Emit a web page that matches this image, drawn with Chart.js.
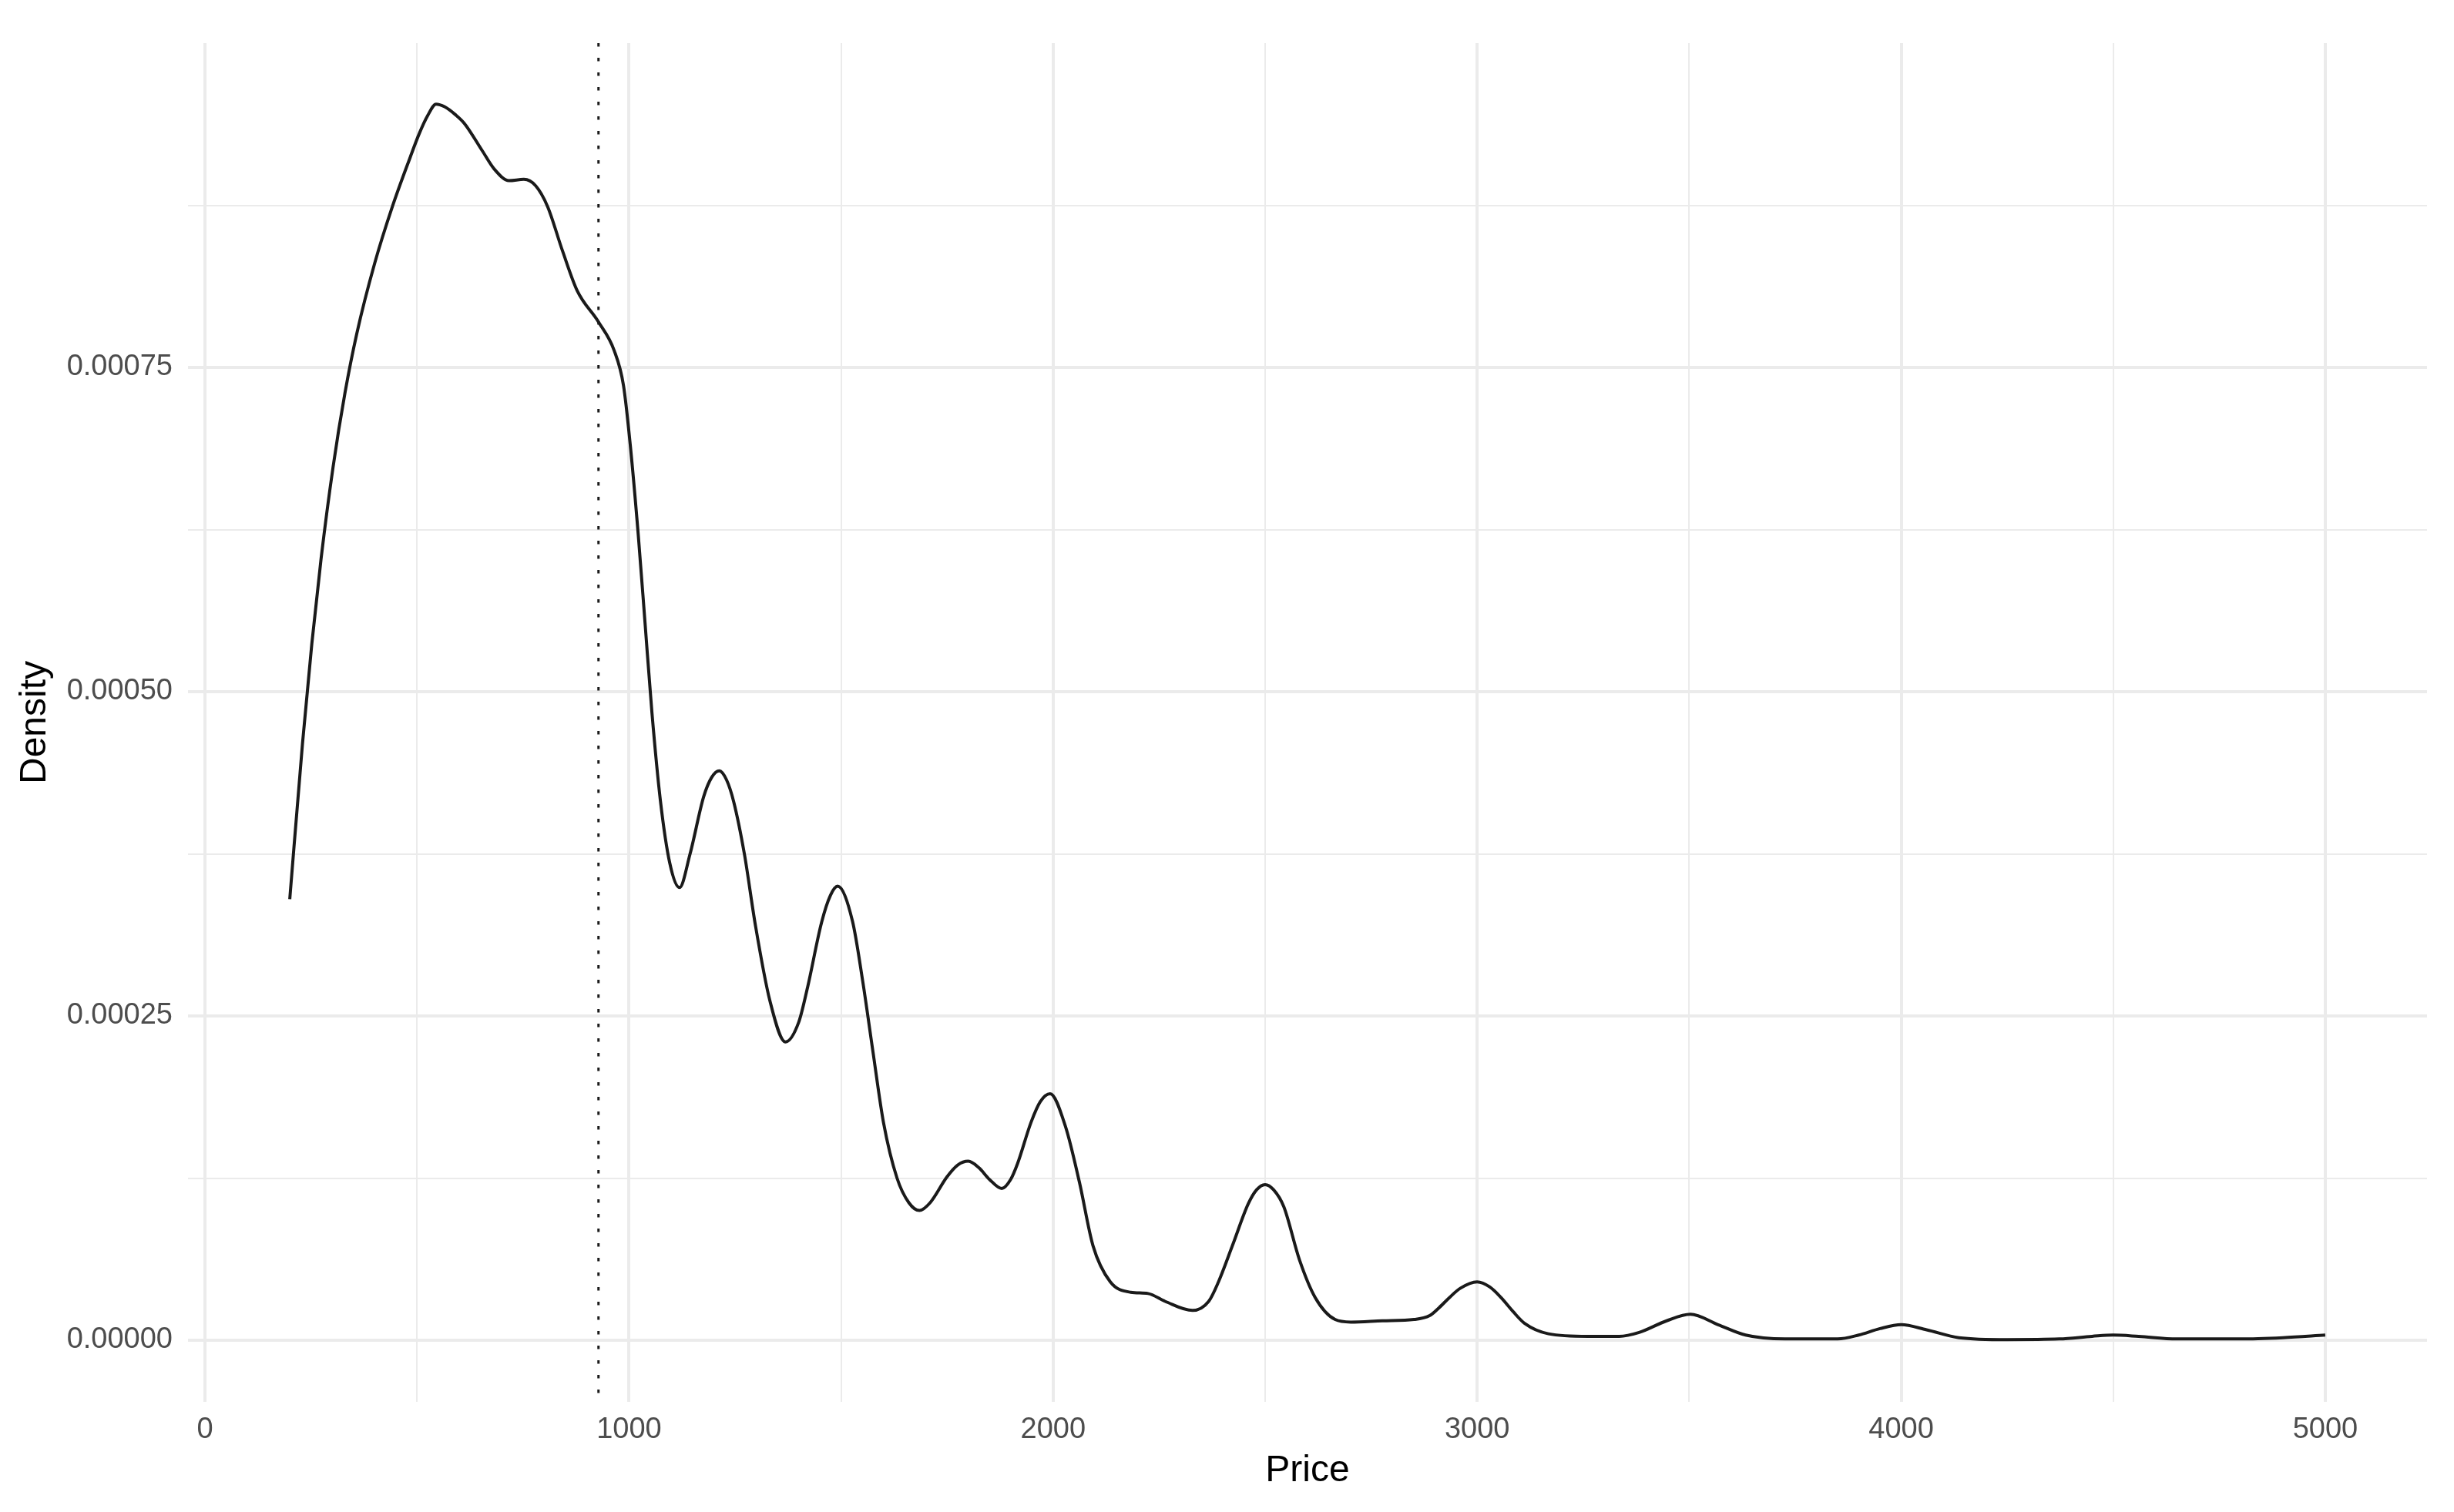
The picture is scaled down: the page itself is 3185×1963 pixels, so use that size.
<!DOCTYPE html>
<html>
<head>
<meta charset="utf-8">
<title>Price density</title>
<script src="https://cdn.jsdelivr.net/npm/chart.js@4.4.1/dist/chart.umd.min.js"></script>
<style>
    html, body { margin: 0; padding: 0; background: #ffffff; }
    #wrap { width: 3185px; height: 1963px; position: relative; }
</style>
</head>
<body>
<div id="wrap"><canvas id="densityChart" width="3185" height="1963"></canvas></div>
<script>
/* global Chart */

// --- Data ---

// price positions where the density curve was sampled
const priceGrid = [
    200, 230, 252, 274, 302, 330, 358, 400, 442, 484,
    505, 525, 545, 565, 590, 612, 654, 682, 717, 752,
    780, 808, 843, 878, 928, 965, 987, 1003, 1022, 1038,
    1054, 1074, 1096, 1119, 1144, 1176, 1195, 1213, 1230, 1247,
    1272, 1298, 1332, 1369, 1400, 1421, 1454, 1475, 1492, 1527,
    1551, 1575, 1600, 1632, 1660, 1685, 1710, 1750, 1775, 1800,
    1825, 1850, 1879, 1900, 1916, 1948, 1970, 1993, 2029, 2062,
    2094, 2135, 2183, 2224, 2264, 2329, 2367, 2390, 2423, 2460,
    2480, 2500, 2520, 2544, 2581, 2618, 2665, 2702, 2777, 2851,
    2888, 2910, 2935, 2960, 3000, 3030, 3056, 3085, 3112, 3168,
    3261, 3335, 3382, 3447, 3503, 3568, 3633, 3726, 3850, 3900,
    3950, 4000, 4060, 4136, 4250, 4373, 4450, 4500, 4560, 4650,
    4800, 4900, 5000
];

// estimated kernel density at each price above
const densityValues = [
    0.000340, 0.000460, 0.000537, 0.000603, 0.000673, 0.000730, 0.000776, 0.000830, 0.000874, 0.000912,
    0.000930, 0.000944, 0.000953, 0.000951, 0.000945, 0.000938, 0.000917, 0.000903, 0.000894, 0.000895,
    0.000890, 0.000874, 0.000840, 0.000809, 0.000785, 0.000763, 0.000736, 0.000690, 0.000620, 0.000552,
    0.000484, 0.000416, 0.000368, 0.000349, 0.000375, 0.000419, 0.000434, 0.000439, 0.000432, 0.000415,
    0.000375, 0.000320, 0.000262, 0.000230, 0.000245, 0.000272, 0.000322, 0.000343, 0.000350, 0.000323,
    0.000277, 0.000223, 0.000168, 0.000125, 0.000106, 0.000100, 0.000106, 0.000126, 0.000135, 0.000138,
    0.000133, 0.000124, 0.000117, 0.000124, 0.000136, 0.000168, 0.000184, 0.000190, 0.000165, 0.000122,
    0.000073, 0.000045, 0.000037, 0.000036, 0.000030, 0.000023, 0.000030, 0.000045, 0.000073, 0.000105,
    0.000116, 0.000120, 0.000116, 0.000103, 0.000062, 0.000033, 0.000016, 0.000014, 0.000015, 0.000016,
    0.000019, 0.000025, 0.000033, 0.000040, 0.000045, 0.000041, 0.000033, 0.000022, 0.000013, 0.000005,
    0.000003, 0.000003, 0.000006, 0.000015, 0.000020, 0.000012, 0.000004, 0.000001, 0.000001, 0.000004,
    0.000009, 0.000012, 0.000008, 0.000002, 0.0000005, 0.000001, 0.000003, 0.000004, 0.000003, 0.000001,
    0.000001, 0.000002, 0.000004
];

// dotted reference line (median price)
const medianPrice = 928;

// axis breaks: grid lines (major + minor) and labelled ticks
const xGridBreaks = [0, 500, 1000, 1500, 2000, 2500, 3000, 3500, 4000, 4500, 5000];
const xLabelBreaks = [0, 1000, 2000, 3000, 4000, 5000];
const yGridBreaks = [0, 0.000125, 0.00025, 0.000375, 0.0005, 0.000625, 0.00075, 0.000875];
const yLabelBreaks = [0, 0.00025, 0.0005, 0.00075];

// panel limits (ggplot-style 5% expansion)
const xLimits = [-40, 5240];
const yLimits = [-0.0000475, 0.001];

// --- Chart ---

const GRID_COLOR = '#EBEBEB';
const TICK_COLOR = '#4D4D4D';
const FONT_FAMILY = '"Liberation Sans", Arial, Helvetica, sans-serif';

// draws the dotted vertical line across the whole panel
const medianLinePlugin = {
    id: 'medianLine',
    afterDatasetsDraw(chart) {
        const { ctx, chartArea, scales } = chart;
        const px = scales.x.getPixelForValue(medianPrice);
        ctx.save();
        ctx.beginPath();
        ctx.setLineDash([4.5, 14.5]);
        ctx.lineWidth = 3;
        ctx.strokeStyle = '#1a1a1a';
        ctx.moveTo(px, chartArea.top);
        ctx.lineTo(px, chartArea.bottom);
        ctx.stroke();
        ctx.restore();
    }
};

const points = priceGrid.map((p, i) => ({ x: p, y: densityValues[i] }));

new Chart(document.getElementById('densityChart'), {
    type: 'line',
    data: {
        datasets: [{
            label: 'Density',
            data: points,
            borderColor: '#1a1a1a',
            borderWidth: 4,
            pointRadius: 0,
            fill: false,
            cubicInterpolationMode: 'monotone'
        }]
    },
    options: {
        responsive: false,
        animation: false,
        devicePixelRatio: 1,
        layout: { padding: { top: 56, right: 35, left: 0, bottom: 0 } },
        plugins: {
            legend: { display: false },
            tooltip: { enabled: false }
        },
        scales: {
            x: {
                type: 'linear',
                min: xLimits[0],
                max: xLimits[1],
                afterBuildTicks: (scale) => {
                    scale.ticks = xGridBreaks.map(v => ({ value: v }));
                },
                afterFit: (scale) => { scale.height = 143; },
                border: { display: false },
                grid: {
                    color: GRID_COLOR,
                    drawTicks: false,
                    lineWidth: (ctx) => (ctx.tick && xLabelBreaks.includes(ctx.tick.value) ? 4 : 2)
                },
                ticks: {
                    autoSkip: false,
                    maxRotation: 0,
                    padding: 14,
                    color: TICK_COLOR,
                    font: { family: FONT_FAMILY, size: 38 },
                    callback: (value) => (xLabelBreaks.includes(value) ? String(value) : '')
                },
                title: {
                    display: true,
                    text: 'Price',
                    color: '#000000',
                    font: { family: FONT_FAMILY, size: 48 },
                    padding: { top: 0, bottom: 24 }
                }
            },
            y: {
                type: 'linear',
                min: yLimits[0],
                max: yLimits[1],
                afterBuildTicks: (scale) => {
                    scale.ticks = yGridBreaks.map(v => ({ value: v }));
                },
                afterFit: (scale) => { scale.width = 244; },
                border: { display: false },
                grid: {
                    color: GRID_COLOR,
                    drawTicks: false,
                    lineWidth: (ctx) => (ctx.tick && yLabelBreaks.includes(ctx.tick.value) ? 4 : 2)
                },
                ticks: {
                    autoSkip: false,
                    padding: 20,
                    color: TICK_COLOR,
                    font: { family: FONT_FAMILY, size: 38 },
                    callback: (value) => (yLabelBreaks.includes(value) ? value.toFixed(5) : '')
                },
                title: {
                    display: true,
                    text: 'Density',
                    color: '#000000',
                    font: { family: FONT_FAMILY, size: 48 },
                    padding: { top: 17, bottom: 0 }
                }
            }
        }
    },
    plugins: [medianLinePlugin]
});
</script>
</body>
</html>
